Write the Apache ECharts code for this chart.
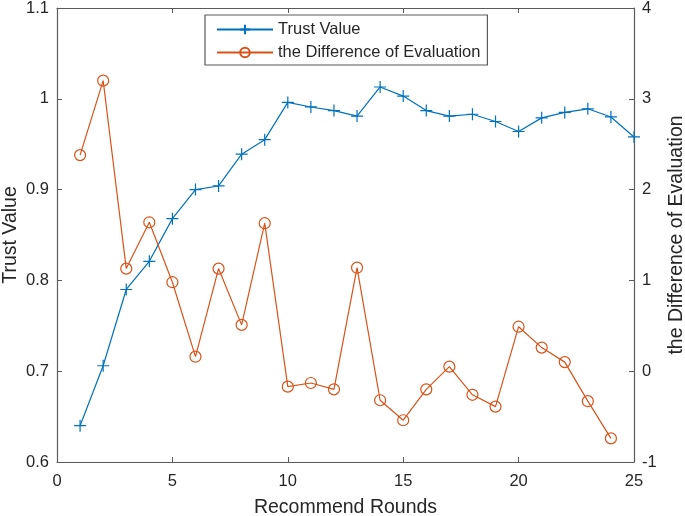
<!DOCTYPE html>
<html>
<head>
<meta charset="utf-8">
<script src="https://cdn.jsdelivr.net/npm/echarts@6/dist/echarts.min.js"></script>
<style>
html,body{margin:0;padding:0;background:#fff;}
#chart{width:685px;height:516px;}
</style>
</head>
<body>
<div id="chart"></div>
<script>
const rounds = [1,2,3,4,5,6,7,8,9,10,11,12,13,14,15,16,17,18,19,20,21,22,23,24,25];
const trustValue = [0.640,0.706,0.790,0.821,0.868,0.900,0.904,0.939,0.955,0.996,0.991,0.987,0.981,1.013,1.003,0.987,0.981,0.983,0.975,0.964,0.979,0.985,0.989,0.980,0.958];
const diffRounds = [1,2,3,4,5,6,7,8,9,10,11,12,13,14,15,16,17,18,19,20,21,22,23,24];
const diffEval = [2.38,3.20,1.13,1.64,0.98,0.16,1.13,0.51,1.63,-0.17,-0.13,-0.20,1.14,-0.32,-0.54,-0.20,0.05,-0.26,-0.39,0.49,0.26,0.10,-0.33,-0.74];
const xTicks = [0,5,10,15,20,25];
const leftTicks = ['0.6','0.7','0.8','0.9','1','1.1'];
const rightTicks = ['-1','0','1','2','3','4'];

const blue = '#0072BD';
const orange = '#D95319';
const axisCol = '#5a5a5a';
const textCol = '#262626';
const font = 'Liberation Sans, Arial, Helvetica, sans-serif';
const plusPath = 'path://M5,0L5,10M0,5L10,5';
const tickFont = 16.5, nameFont = 19.5;

const chart = echarts.init(document.getElementById('chart'), null, {renderer:'canvas'});
const commonAxisLine = {show:true, onZero:false, lineStyle:{color:axisCol, width:1.2}};
const option = {
  animation:false,
  backgroundColor:'#fff',
  textStyle:{fontFamily:font},
  grid:{left:57, right:51, top:8, bottom:54, show:false, containLabel:false, outerBoundsMode:'none'},
  legend:{
    orient:'vertical', left:205, top:15,
    padding:[6,7,4,11],
    itemWidth:56, itemHeight:12, itemGap:6,
    borderColor:axisCol, borderWidth:1.2, backgroundColor:'#fff',
    textStyle:{fontSize:tickFont, color:textCol, fontFamily:font},
    data:['Trust Value','the Difference of Evaluation']
  },
  xAxis:[
    {type:'value', min:xTicks[0], max:xTicks[xTicks.length-1], interval:5, position:'bottom',
     name:'Recommend Rounds', nameLocation:'middle', nameGap:36, nameMoveOverlap:false,
     nameTextStyle:{fontSize:nameFont, color:textCol, fontFamily:font},
     axisLine:commonAxisLine,
     axisTick:{show:true, inside:true, length:5, lineStyle:{color:axisCol}},
     axisLabel:{fontSize:tickFont, color:textCol, margin:11, fontFamily:font},
     splitLine:{show:false}},
    {type:'value', min:xTicks[0], max:xTicks[xTicks.length-1], interval:5, position:'top',
     axisLine:commonAxisLine,
     axisTick:{show:true, inside:true, length:5, lineStyle:{color:axisCol}},
     axisLabel:{show:false}, splitLine:{show:false}}
  ],
  yAxis:[
    {type:'value', min:0.6, max:1.1, interval:0.1, position:'left',
     name:'Trust Value', nameLocation:'middle', nameGap:36, nameRotate:90, nameMoveOverlap:false,
     nameTextStyle:{fontSize:nameFont, color:textCol, fontFamily:font},
     axisLine:commonAxisLine,
     axisTick:{show:true, inside:true, length:5, lineStyle:{color:axisCol}},
     axisLabel:{fontSize:tickFont, color:textCol, margin:8, fontFamily:font,
       formatter:(v)=>leftTicks[Math.round((v-0.6)*10)]},
     splitLine:{show:false}},
    {type:'value', min:-1, max:4, interval:1, position:'right',
     name:'the Difference of Evaluation', nameLocation:'middle', nameGap:33, nameRotate:90, nameMoveOverlap:false,
     nameTextStyle:{fontSize:nameFont, color:textCol, fontFamily:font},
     axisLine:commonAxisLine,
     axisTick:{show:true, inside:true, length:5, lineStyle:{color:axisCol}},
     axisLabel:{fontSize:tickFont, color:textCol, margin:8, fontFamily:font,
       formatter:(v)=>rightTicks[Math.round(v+1)]},
     splitLine:{show:false}}
  ],
  series:[
    {name:'Trust Value', type:'line', xAxisIndex:0, yAxisIndex:0,
     data:rounds.map((r,i)=>[r,trustValue[i]]),
     symbol:plusPath, symbolSize:12, showAllSymbol:true,
     lineStyle:{color:blue, width:1.2},
     itemStyle:{color:blue, borderColor:blue, borderWidth:1.2}},
    {name:'the Difference of Evaluation', type:'line', xAxisIndex:0, yAxisIndex:1,
     data:diffRounds.map((r,i)=>[r,diffEval[i]]),
     symbol:'circle', symbolSize:11, showAllSymbol:true,
     lineStyle:{color:orange, width:1.2},
     itemStyle:{color:'rgba(255,255,255,0)', borderColor:orange, borderWidth:1.2}}
  ]
};
chart.setOption(option);
</script>
</body>
</html>
